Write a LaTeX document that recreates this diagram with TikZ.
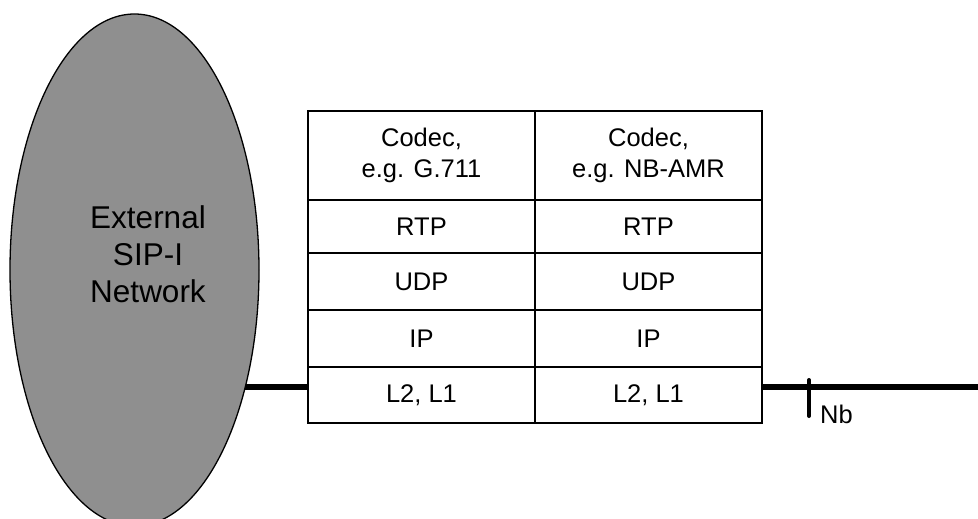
\documentclass[tikz,border=0pt]{standalone}
\usepackage{fontspec}
\setmainfont{Liberation Sans}
\usetikzlibrary{shapes.geometric}
\definecolor{netgray}{RGB}{143,143,143}
\tikzset{
  cell/.style={draw=black, line width=1.8pt, rectangle, inner sep=0pt,
    minimum width=227pt, align=center, font=\fontsize{25.5}{31}\selectfont},
  bus/.style={line width=5.5pt},
  tickmark/.style={line width=4pt, line cap=round},
  netshape/.style={ellipse, draw=black, fill=netgray, line width=1.3pt,
    minimum width=249pt, minimum height=512pt, inner sep=0pt},
  nettxt/.style={align=center, font=\fontsize{31.5}{37}\selectfont, inner sep=0pt},
  lbl/.style={font=\fontsize{25.5}{30}\selectfont, inner sep=0pt}
}
\begin{document}
\begin{tikzpicture}[x=1pt, y=-1pt]
\useasboundingbox (0,0) rectangle (978,519);
% table cells
\node[cell, minimum height=89pt] (ca) at (421.5,155.5) {Codec,\\e.g. G.711};
\node[cell, minimum height=89pt] (cb) at (648.5,155.5) {Codec,\\e.g. NB-AMR};
\node[cell, minimum height=53pt] (ra) at (421.5,226.5) {RTP};
\node[cell, minimum height=53pt] (rb) at (648.5,226.5) {RTP};
\node[cell, minimum height=57pt] (ua) at (421.5,281.5) {UDP};
\node[cell, minimum height=57pt] (ub) at (648.5,281.5) {UDP};
\node[cell, minimum height=57pt] (ia) at (421.5,338.5) {IP};
\node[cell, minimum height=57pt] (ib) at (648.5,338.5) {IP};
\node[cell, minimum height=56pt] (la) at (421.5,395) {L2, L1};
\node[cell, minimum height=56pt] (lb) at (648.5,395) {L2, L1};
% bus lines
\coordinate (busl) at (240,387);
\coordinate (busr) at (978,387);
\draw[bus] (busl) -- (la.west |- busl);
\draw[bus] (lb.east |- busr) -- (busr);
% network ellipse (drawn over the bus end)
\node[netshape] (net) at (134.5,270) {};
\node[nettxt] (nettext) at (148,254) {External\\SIP-I\\Network};
% Nb reference point
\coordinate (tickt) at (809,380);
\coordinate (tickb) at (809,416);
\draw[tickmark] (tickt) -- (tickb);
\node[lbl, anchor=base west] (nb) at (820,423) {Nb};
\end{tikzpicture}
\end{document}
